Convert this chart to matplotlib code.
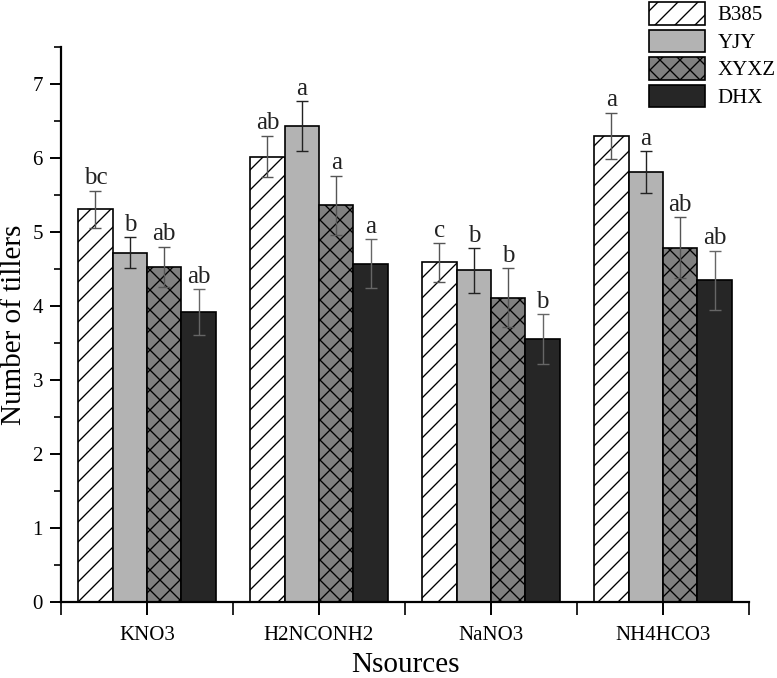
import numpy as np
import matplotlib
matplotlib.use("Agg")
import matplotlib.pyplot as plt
from matplotlib.ticker import MultipleLocator, FixedLocator

DPI = 120
S = 100 / DPI          # so sizes below read like 100-dpi points

# ---- data -----------------------------------------------------------
sources = ["KNO3", "H2NCONH2", "NaNO3", "NH4HCO3"]
series = ["B385", "YJY", "XYXZ", "DHX"]

b385 = [5.31, 6.02, 4.59, 6.30]
yjy = [4.72, 6.43, 4.48, 5.81]
xyxz = [4.53, 5.36, 4.11, 4.79]
dhx = [3.92, 4.57, 3.55, 4.35]

b385_err = [0.25, 0.28, 0.26, 0.31]
yjy_err = [0.21, 0.34, 0.30, 0.28]
xyxz_err = [0.27, 0.40, 0.40, 0.41]
dhx_err = [0.31, 0.33, 0.34, 0.40]

b385_sig = ["bc", "ab", "c", "a"]
yjy_sig = ["b", "a", "b", "a"]
xyxz_sig = ["ab", "a", "b", "ab"]
dhx_sig = ["ab", "a", "b", "ab"]

# ---- style ----------------------------------------------------------
plt.rcParams["font.family"] = ["Liberation Serif", "DejaVu Serif"]
plt.rcParams["hatch.linewidth"] = 0.8
plt.rcParams["hatch.color"] = "black"

styles = [
    dict(color="white", hatch="//", ecol="#555555"),
    dict(color="#b3b3b3", hatch="", ecol="#222222"),
    dict(color="#808080", hatch="xx", ecol="#555555"),
    dict(color="#262626", hatch="", ecol="#666666"),
]
values = [b385, yjy, xyxz, dhx]
errs = [b385_err, yjy_err, xyxz_err, dhx_err]
sigs = [b385_sig, yjy_sig, xyxz_sig, dhx_sig]

fig = plt.figure(figsize=(777 / DPI, 678 / DPI), dpi=DPI)
ax = fig.add_axes([61 / 777, 1 - 602 / 678, (749 - 61) / 777, (602 - 47) / 678])

x = np.arange(1, len(sources) + 1)
w = 0.2
offsets = [-1.5 * w, -0.5 * w, 0.5 * w, 1.5 * w]

handles = []
for name, vals, err, sig, off, st in zip(series, values, errs, sigs, offsets, styles):
    bars = ax.bar(x + off, vals, width=w, color=st["color"], edgecolor="black",
                  linewidth=1.2 * S, hatch=st["hatch"], label=name, zorder=2)
    handles.append(bars)
    ax.errorbar(x + off, vals, yerr=err, fmt="none", ecolor=st["ecol"],
                elinewidth=1.0 * S, capsize=4.5 * S, capthick=1.0 * S, zorder=3)
    for xi, v, e, s in zip(x + off, vals, err, sig):
        ax.text(xi, v + e + 0.02, s, ha="center", va="bottom",
                fontsize=18 * S, color="#222222")

ax.set_xlim(0.5, 4.5)
ax.set_ylim(0, 7.5)

ax.spines["top"].set_visible(False)
ax.spines["right"].set_visible(False)
for sp in ("left", "bottom"):
    ax.spines[sp].set_linewidth(1.6 * S)

ax.set_xticks(x)
ax.set_xticklabels(sources)
ax.xaxis.set_minor_locator(FixedLocator([0.5, 1.5, 2.5, 3.5, 4.5]))
ax.yaxis.set_major_locator(MultipleLocator(1))
ax.yaxis.set_minor_locator(MultipleLocator(0.5))
ax.tick_params(axis="both", which="major", direction="out", length=8 * S,
               width=1.4 * S, labelsize=15 * S, pad=5 * S)
ax.tick_params(axis="both", which="minor", direction="out", length=5 * S,
               width=1.2 * S)
ax.tick_params(axis="x", which="major", length=9 * S, pad=8 * S)
ax.tick_params(axis="x", which="minor", length=9 * S)

ax.set_xlabel("Nsources", fontsize=21 * S)
ax.set_ylabel("Number of tillers", fontsize=21 * S)
ax.xaxis.set_label_coords(0.5, -0.09)
ax.yaxis.set_label_coords(-0.05, 0.5)

fig.legend(handles=handles, labels=series, loc="upper left",
           bbox_to_anchor=(649 / 777, 1 - 2 / 678), frameon=False,
           fontsize=15 * S, handlelength=2.7, handleheight=1.3,
           labelspacing=0.2, handletextpad=0.6, borderpad=0, borderaxespad=0)

fig.savefig("out.png", dpi=DPI)
